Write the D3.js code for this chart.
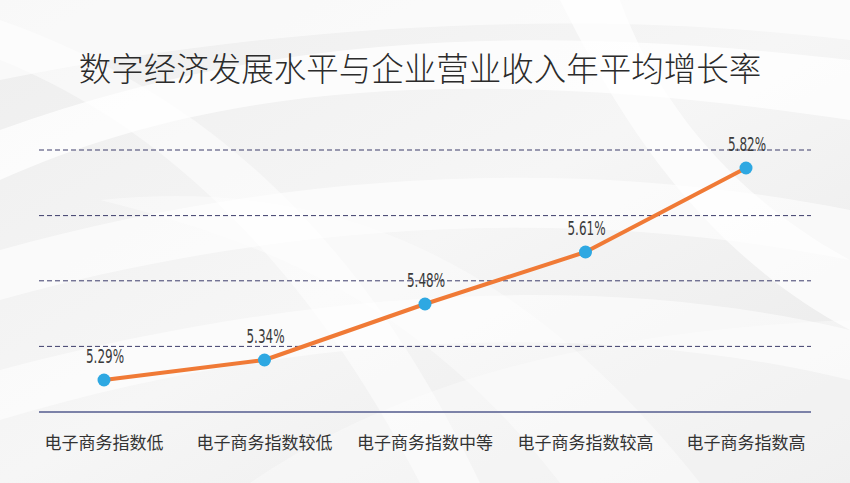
<!DOCTYPE html>
<html><head><meta charset="utf-8">
<script src="https://cdn.jsdelivr.net/npm/d3@7/dist/d3.min.js"></script>
<style>
html,body{margin:0;padding:0;background:#fff;}
svg{display:block;}
</style></head>
<body>
<svg id="chart" width="850" height="483"></svg>
<script>
const title = "数字经济发展水平与企业营业收入年平均增长率";
const categories = ["电子商务指数低","电子商务指数较低","电子商务指数中等","电子商务指数较高","电子商务指数高"];
const values = [5.29, 5.34, 5.48, 5.61, 5.82];
const gridTicks = [5.374, 5.538, 5.701, 5.865];
const yMin = 5.21, yMax = 5.865;

const W = 850, H = 483;
const svg = d3.select("#chart");
const defs = svg.append("defs");

// background
const bg = defs.append("linearGradient").attr("id","bg").attr("x1","0").attr("y1","0").attr("x2","1").attr("y2","1");
bg.append("stop").attr("offset","0").attr("stop-color","#eeeeee");
bg.append("stop").attr("offset","0.5").attr("stop-color","#f6f6f6");
bg.append("stop").attr("offset","1").attr("stop-color","#e9e9e9");
svg.append("rect").attr("width",W).attr("height",H).attr("fill","url(#bg)");

const swoosh = svg.append("g").attr("fill","#ffffff");
const swooshPaths = [
  {d:"M0,180 C200,90 450,60 850,120 L850,60 C500,20 250,40 0,130 Z", o:0.75},
  {d:"M0,300 C250,230 550,200 850,260 L850,210 C550,150 250,180 0,250 Z", o:0.6},
  {d:"M0,420 C300,330 600,320 850,380 L850,330 C600,270 300,290 0,370 Z", o:0.55},
  {d:"M560,0 C620,120 700,250 850,330 L850,260 C740,200 660,110 620,0 Z", o:0.7},
  {d:"M0,60 C150,120 300,250 420,483 L480,483 C360,230 200,90 0,20 Z", o:0.5},
  {d:"M250,483 C400,380 600,330 850,320 L850,483 Z", o:0.35},
  {d:"M0,0 L850,0 L850,40 C600,10 300,20 0,80 Z", o:0.6},
  {d:"M100,200 C300,180 500,230 700,483 L560,483 C420,300 260,240 100,200 Z", o:0.4}
];
swooshPaths.forEach(p => swoosh.append("path").attr("d",p.d).attr("opacity",p.o));

// scales
const x = d3.scalePoint().domain(categories).range([104, 746]);
const y = d3.scaleLinear().domain([yMin, yMax]).range([412, 150]);

// gridlines
svg.append("g").selectAll("line").data(gridTicks).join("line")
  .attr("x1",39).attr("x2",811)
  .attr("y1",d=>y(d)).attr("y2",d=>y(d))
  .attr("stroke","#3d3d6b").attr("stroke-width",1).attr("stroke-dasharray","5,3");

// baseline
svg.append("line").attr("x1",39).attr("x2",811).attr("y1",y(yMin)).attr("y2",y(yMin))
  .attr("stroke","#7c82a8").attr("stroke-width",2);

// line
const line = d3.line().x((d,i)=>x(categories[i])).y(d=>y(d));
svg.append("path").datum(values).attr("d",line).attr("fill","none")
  .attr("stroke","#f07a36").attr("stroke-width",4).attr("stroke-linejoin","round");

// points
svg.append("g").selectAll("circle").data(values).join("circle")
  .attr("cx",(d,i)=>x(categories[i])).attr("cy",d=>y(d)).attr("r",6.5)
  .attr("fill","#2ea8e2");

// value labels
const lbl = svg.append("g").selectAll("g").data(values).join("g")
  .attr("transform",(d,i)=>`translate(${x(categories[i])+1},${y(d)-17})`);
lbl.append("text")
  .attr("transform","scale(0.6,1)")
  .attr("text-anchor","middle")
  .attr("font-family","'DejaVu Sans', sans-serif")
  .attr("font-size",20)
  .attr("fill","#3a3a3a")
  .text(d=>d.toFixed(2)+"%");

// category labels
svg.append("g").selectAll("text").data(categories).join("text")
  .attr("x",d=>x(d)).attr("y",449)
  .attr("text-anchor","middle")
  .attr("font-family","'Noto Sans CJK SC', sans-serif")
  .attr("font-size",17).attr("fill","#333")
  .text(d=>d);

// title
svg.append("text").attr("x",420).attr("y",81).attr("text-anchor","middle")
  .attr("font-family","'Noto Sans CJK SC', sans-serif")
  .attr("font-size",32.5).attr("font-weight",300).attr("fill","#2b2b2b")
  .text(title);
</script>
</body></html>
